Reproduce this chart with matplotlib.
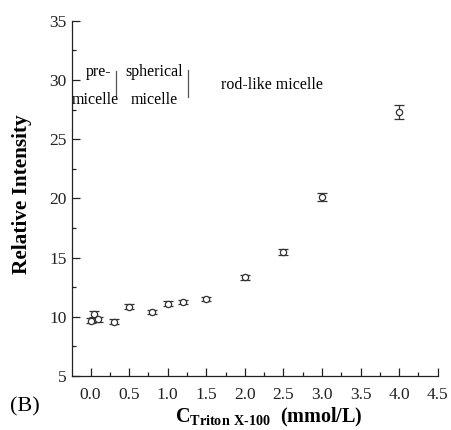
import matplotlib
matplotlib.use("Agg")
import matplotlib.pyplot as plt
from matplotlib.ticker import MultipleLocator

plt.rcParams['font.family'] = ['Liberation Serif', 'DejaVu Serif']
plt.rcParams['mathtext.fontset'] = 'custom'
plt.rcParams['mathtext.rm'] = 'Liberation Serif'
plt.rcParams['mathtext.bf'] = 'Liberation Serif:bold'

conc = [0.0, 0.05, 0.1, 0.3, 0.5, 0.8, 1.0, 1.2, 1.5, 2.0, 2.5, 3.0, 4.0]
intensity = [9.67, 10.2, 9.8, 9.6, 10.85, 10.4, 11.1, 11.25, 11.5, 13.33, 15.44, 20.14, 27.3]
err = [0.2, 0.25, 0.2, 0.2, 0.2, 0.2, 0.2, 0.2, 0.2, 0.2, 0.25, 0.35, 0.6]

xticks = [0.0, 0.5, 1.0, 1.5, 2.0, 2.5, 3.0, 3.5, 4.0, 4.5]
yticks = [5, 10, 15, 20, 25, 30, 35]

fig = plt.figure(figsize=(4.51, 4.30), dpi=100)
ax = fig.add_axes([72/451, 1-376/430, (437.7-72)/451, (376-20.7)/430])

ax.errorbar(conc, intensity, yerr=err, fmt='o', mfc='white', mec='#333333',
            ms=4.5, mew=0.9, ecolor='#333333', elinewidth=0.9, capsize=3.5, capthick=0.9)

ax.set_xlim(-0.24, 4.5)
ax.set_ylim(5, 35)
ax.set_xticks(xticks)
ax.set_xticklabels([f"{t:.1f}" for t in xticks])
ax.set_yticks(yticks)
ax.xaxis.set_minor_locator(MultipleLocator(0.25))
ax.yaxis.set_minor_locator(MultipleLocator(2.5))
ax.tick_params(which='both', direction='in', labelsize=12.5, width=0.9, colors='#222222')
ax.tick_params(which='major', length=6)
ax.tick_params(which='minor', length=3)
ax.tick_params(axis='x', pad=8)
ax.tick_params(axis='y', pad=4)
ax.spines['top'].set_visible(False)
ax.spines['right'].set_visible(False)
for s in ['left', 'bottom']:
    ax.spines[s].set_linewidth(0.9)
    ax.spines[s].set_color('#222222')

ax.set_ylabel('Relative Intensity', fontsize=15.3, fontweight='bold')
ax.yaxis.set_label_coords(-0.11, 0.512)
ax.set_xlabel(r'$\mathbf{C}_{\mathbf{Triton\ X\text{-}100}}$  (mmol/L)', fontsize=14.5,
              fontweight='bold')
ax.xaxis.set_label_coords(0.539, -0.085)

fs = 11.5
ax.text(0.1, 30.7, 'pre-', fontsize=fs, ha='center', va='center')
ax.text(0.06, 28.3, 'micelle', fontsize=fs, ha='center', va='center')
ax.plot([0.33, 0.33], [28.65, 30.75], color='#555555', lw=0.9)
ax.text(0.82, 30.7, 'spherical', fontsize=fs, ha='center', va='center')
ax.text(0.82, 28.3, 'micelle', fontsize=fs, ha='center', va='center')
ax.plot([1.26, 1.26], [28.55, 30.8], color='#555555', lw=0.9)
ax.text(2.35, 29.6, 'rod-like micelle', fontsize=fs, ha='center', va='center')

fig.text(10/451, 1-407/430, '(B)', fontsize=16, ha='left', va='center')

fig.savefig('out.png', dpi=100)
